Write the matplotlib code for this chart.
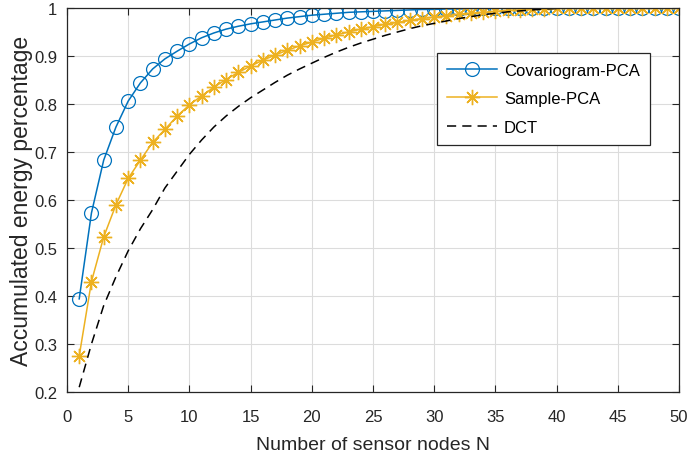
import numpy as np
import matplotlib
matplotlib.use('Agg')
import matplotlib.pyplot as plt

plt.rcParams['font.family'] = ['Liberation Sans', 'DejaVu Sans']

# Datos
nodos = list(range(1, 51))

covariograma = [0.394, 0.573, 0.683, 0.752, 0.806, 0.844, 0.873, 0.894, 0.910, 0.925,
                0.938, 0.948, 0.956, 0.962, 0.967, 0.971, 0.975, 0.979, 0.982, 0.985,
                0.987, 0.989, 0.991, 0.992, 0.993, 0.994, 0.995, 0.996, 0.997, 0.997,
                0.998, 0.998, 0.999, 0.999, 0.999, 1.0, 1.0, 1.0, 1.0, 1.0,
                1.0, 1.0, 1.0, 1.0, 1.0, 1.0, 1.0, 1.0, 1.0, 1.0]

muestral = [0.275, 0.430, 0.523, 0.590, 0.645, 0.683, 0.720, 0.747, 0.775, 0.798,
            0.817, 0.835, 0.851, 0.866, 0.879, 0.891, 0.902, 0.912, 0.921, 0.929,
            0.937, 0.944, 0.950, 0.956, 0.961, 0.966, 0.970, 0.974, 0.978, 0.981,
            0.984, 0.987, 0.989, 0.991, 0.993, 0.995, 0.996, 0.997, 0.998, 0.999,
            1.0, 1.0, 1.0, 1.0, 1.0, 1.0, 1.0, 1.0, 1.0, 1.0]

dct = [0.210, 0.300, 0.380, 0.440, 0.494, 0.540, 0.580, 0.625, 0.660, 0.695,
       0.725, 0.752, 0.775, 0.795, 0.813, 0.829, 0.845, 0.860, 0.873, 0.885,
       0.897, 0.908, 0.918, 0.927, 0.935, 0.943, 0.950, 0.957, 0.963, 0.968,
       0.973, 0.978, 0.982, 0.986, 0.989, 0.992, 0.994, 0.996, 0.998, 0.999,
       1.0, 1.0, 1.0, 1.0, 1.0, 1.0, 1.0, 1.0, 1.0, 1.0]

gris = '#262626'

fig = plt.figure(figsize=(6.89, 4.64), dpi=100)
ax = fig.add_axes([0.0972, 0.153, 0.8883, 0.8276])

ax.plot(nodos, covariograma, color='#0072BD', linewidth=1.1, marker='o',
        markersize=10, markerfacecolor='none', markeredgewidth=0.9, label='Covariogram-PCA')
ax.plot(nodos, muestral, color='#EDB120', linewidth=1.1, marker=(8, 2, 0),
        markersize=11, markeredgewidth=1.0, label='Sample-PCA')
ax.plot(nodos, dct, color='black', linewidth=1.1, linestyle=(0, (6, 4)), label='DCT')

ax.set_xlim(0, 50)
ax.set_ylim(0.2, 1.0)
ax.set_xticks(range(0, 51, 5))
ax.set_yticks([0.2, 0.3, 0.4, 0.5, 0.6, 0.7, 0.8, 0.9, 1.0])
ax.set_yticklabels(['0.2', '0.3', '0.4', '0.5', '0.6', '0.7', '0.8', '0.9', '1'])
ax.tick_params(direction='in', top=True, right=True, labelsize=12, length=5, colors=gris)
ax.tick_params(axis='x', pad=12)
ax.tick_params(axis='y', pad=7)
ax.grid(True, color='#dcdcdc', linewidth=0.8)
ax.set_axisbelow(True)
for s in ax.spines.values():
    s.set_color(gris)
    s.set_linewidth(0.9)

ax.set_xlabel('Number of sensor nodes N', fontsize=14, color=gris, labelpad=9)
ax.set_ylabel('Accumulated energy percentage', fontsize=16.5, color=gris, labelpad=1)

leg = ax.legend(loc='upper left', bbox_to_anchor=(0.605, 0.883), fontsize=12,
                fancybox=False, edgecolor=gris, framealpha=1, handlelength=3.0,
                labelspacing=0.8, borderpad=0.6, handletextpad=0.4, borderaxespad=0)
leg.get_frame().set_linewidth(0.9)

fig.savefig('out.png', dpi=100)
